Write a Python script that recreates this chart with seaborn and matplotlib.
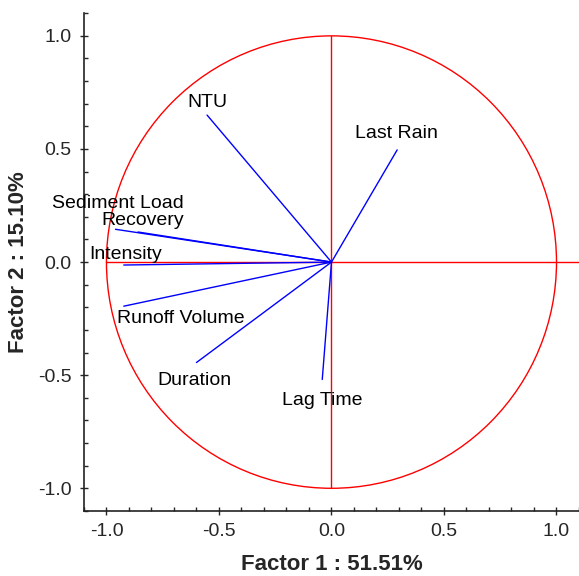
import numpy as np
import pandas as pd
import matplotlib
matplotlib.use("Agg")
import matplotlib.pyplot as plt
from matplotlib.patches import Circle
from matplotlib.ticker import MultipleLocator
import seaborn as sns

# PCA loadings (factor 1, factor 2)
variables = ["NTU", "Last Rain", "Sediment Load", "Recovery", "Intensity",
             "Runoff Volume", "Duration", "Lag Time"]
factor1 = [-0.553, 0.292, -0.96, -0.86, -0.923, -0.923, -0.60, -0.041]
factor2 = [0.650, 0.496, 0.145, 0.133, -0.013, -0.195, -0.444, -0.519]

# where the names sit (layout only)
label_x = [-0.55, 0.29, -0.95, -0.84, -0.915, -0.67, -0.61, -0.04]
label_y = [0.705, 0.57, 0.26, 0.185, 0.035, -0.25, -0.525, -0.61]

sns.set_style("ticks")
plt.rcParams['font.family'] = ['Liberation Sans', 'DejaVu Sans']

fig = plt.figure(figsize=(5.79, 5.76), dpi=100)
ax = fig.add_axes([0.145, 0.113, 0.855, 0.864])

# unit circle and red axes lines
ax.add_patch(Circle((0, 0), 1.0, fill=False, color="red", lw=1.0))
ax.plot([-1.0, 1.1], [0, 0], color="red", lw=1.0)
ax.plot([0, 0], [-1.0, 1.0], color="red", lw=1.0)

# vectors from origin, long form for seaborn
rows = []
for v, x, y in zip(variables, factor1, factor2):
    rows.append({"var": v, "step": 0, "f1": 0.0, "f2": 0.0})
    rows.append({"var": v, "step": 1, "f1": x, "f2": y})
df = pd.DataFrame(rows)
sns.lineplot(data=df, x="f1", y="f2", units="var", estimator=None,
             sort=False, color="blue", lw=1.0, ax=ax)

for v, lx, ly in zip(variables, label_x, label_y):
    ax.text(lx, ly, v, ha="center", va="center", fontsize=14, color="black")

ax.set_xlim(-1.1, 1.1)
ax.set_ylim(-1.1, 1.1)
ax.xaxis.set_major_locator(MultipleLocator(0.5))
ax.yaxis.set_major_locator(MultipleLocator(0.5))
ax.xaxis.set_minor_locator(MultipleLocator(0.1))
ax.yaxis.set_minor_locator(MultipleLocator(0.1))
ax.tick_params(which="major", direction="inout", length=6, width=1, labelsize=14, pad=6)
ax.tick_params(which="minor", direction="in", length=3, width=1)
ax.xaxis.set_major_formatter(matplotlib.ticker.FormatStrFormatter("%.1f"))
ax.yaxis.set_major_formatter(matplotlib.ticker.FormatStrFormatter("%.1f"))

for s in ["top", "right"]:
    ax.spines[s].set_visible(False)
for s in ["left", "bottom"]:
    ax.spines[s].set_color("#222222")
    ax.spines[s].set_linewidth(1.2)

ax.set_xlabel("Factor 1 : 51.51%", fontsize=16, fontweight="bold", labelpad=10)
ax.set_ylabel("Factor 2 : 15.10%", fontsize=16, fontweight="bold", labelpad=6)

fig.savefig("out.png", dpi=100)
